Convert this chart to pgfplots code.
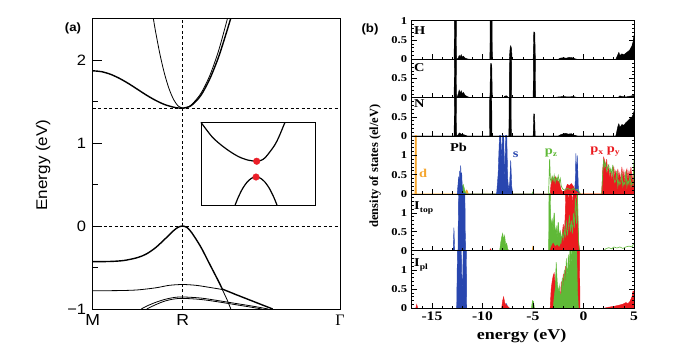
\documentclass[border=0pt]{standalone}
\usepackage{fontspec}
\setmainfont{Liberation Serif}
\newfontfamily\asans[FakeStretch=1.1]{Liberation Sans}
\newfontfamily\bserif[FakeStretch=1.2]{Liberation Serif}
\newfontfamily\gserif{Liberation Serif}
\usepackage{pgfplots}
\pgfplotsset{compat=1.18}
\definecolor{dblue}{RGB}{40,70,175}
\definecolor{dgreen}{RGB}{95,185,55}
\definecolor{dred}{RGB}{235,25,30}
\definecolor{dorange}{RGB}{245,165,45}
\pgfplotsset{
  dos/.style 2 args={at={(411.7pt,#1pt)}, anchor=south west, scale only axis,
    width=222.3pt, height=#2pt, xmin=-17, xmax=5, ymin=0,
    axis on top, axis line style={line width=0.8pt},
    tick align=inside, xtick pos=left, ytick pos=both,
    xtick={-15,-10,-5,0,5}, minor xtick={-17,-16,-14,-13,-12,-11,-9,-8,-7,-6,-4,-3,-2,-1,1,2,3,4},
    major tick length=5pt, minor tick length=2.5pt,
    tick style={black, line width=0.6pt},
    xticklabels={},
    yticklabel style={font=\bserif\bfseries\fontsize{10.5}{10.5}\selectfont, xshift=-1pt},
    xticklabel style={font=\bserif\bfseries\fontsize{13}{13}\selectfont},
  },
  dosA/.style={ymax=1, ytick={0,0.5,1}, minor ytick={0.1,0.2,0.3,0.4,0.6,0.7,0.8,0.9}},
  dosB/.style={ymax=1.5, ytick={0,0.5,1}, yticklabels={0,0.5,1}, minor ytick={0.1,0.2,0.3,0.4,0.6,0.7,0.8,0.9,1.1,1.2,1.3,1.4}},
  blk/.style={draw=black, fill=black, line width=0.4pt},
}
\begin{document}
\begin{tikzpicture}
\useasboundingbox (0,0) rectangle (691pt,358pt);
% ---------------- panel (a)
\begin{axis}[at={(92.7pt,49pt)}, anchor=south west, scale only axis,
  width=247.3pt, height=290.5pt, xmin=0, xmax=2.748, ymin=-1, ymax=2.5,
  xtick={0,1,2.748}, xticklabels={M,R,{\gserif Γ}},
  ytick={-1,0,1,2}, yticklabels={−1,0,1,2}, minor ytick={-0.5,0.5,1.5},
  ytick pos=left, tick align=inside, xtick style={draw=none},
  major tick length=9pt, minor tick length=5pt,
  axis line style={line width=0.8pt}, tick style={black, line width=0.8pt},
  yticklabel style={font=\asans\fontsize{15}{15}\selectfont, xshift=-3pt},
  xticklabel style={font=\asans\fontsize{16}{16}\selectfont, yshift=-2pt},
  clip=true]
\addplot[black, line width=0.7pt, dash pattern=on 3pt off 2.5pt] coordinates {(0,1.42)(2.748,1.42)};
\addplot[black, line width=0.7pt, dash pattern=on 3pt off 2.5pt] coordinates {(0,0)(2.748,0)};
\addplot[black, line width=0.7pt, dash pattern=on 3pt off 2.5pt] coordinates {(1,-1)(1,2.5)};
% conduction bands
\addplot[black, line width=1.4pt, smooth] coordinates {(0,1.87)(0.1,1.859)(0.2,1.827)(0.3,1.777)(0.4,1.715)(0.5,1.645)(0.6,1.575)(0.7,1.513)(0.8,1.463)(0.9,1.431)(0.95,1.422)(1,1.42)(1.05,1.43)(1.1,1.455)(1.2,1.57)(1.3,1.77)(1.4,2.04)(1.5,2.38)(1.56,2.6)};
\addplot[black, line width=0.8pt, smooth] coordinates {(1,1.42)(1.05,1.431)(1.1,1.463)(1.2,1.594)(1.3,1.81)(1.4,2.116)(1.5,2.51)(1.52,2.6)};
\addplot[black, line width=0.8pt, smooth] coordinates {(0.66,2.6)(0.674,2.5)(0.7,2.334)(0.75,2.055)(0.8,1.826)(0.85,1.649)(0.9,1.522)(0.95,1.445)(1,1.42)};
% valence bands
\addplot[black, line width=1.4pt, smooth] coordinates {(0,-0.43)(0.2,-0.427)(0.35,-0.415)(0.5,-0.38)(0.6,-0.335)(0.7,-0.26)(0.8,-0.16)(0.9,-0.055)(0.95,-0.015)(1,0)(1.05,-0.02)(1.1,-0.08)(1.2,-0.25)(1.3,-0.46)(1.4,-0.67)(1.44,-0.76)};
\addplot[black, line width=1.4pt] coordinates {(1.44,-0.76)(1.6,-0.83)(1.8,-0.915)(2.0,-1.0)};
\addplot[black, line width=0.8pt, smooth] coordinates {(0,-0.78)(0.3,-0.778)(0.5,-0.77)(0.7,-0.745)(0.85,-0.715)(1,-0.705)(1.15,-0.715)(1.3,-0.74)(1.44,-0.765)};
\addplot[black, line width=0.8pt] coordinates {(1.44,-0.765)(1.49,-0.88)(1.535,-1.0)};
\addplot[black, line width=0.8pt, smooth] coordinates {(0.54,-1)(0.6,-0.965)(0.7,-0.92)(0.8,-0.885)(0.9,-0.862)(1,-0.855)(1.2,-0.868)(1.4,-0.9)(1.6,-0.935)(1.8,-0.97)(1.95,-1)};
\addplot[black, line width=0.8pt, smooth] coordinates {(0.6,-1)(0.7,-0.948)(0.8,-0.905)(0.9,-0.88)(1,-0.872)(1.2,-0.885)(1.4,-0.915)(1.6,-0.95)(1.8,-0.985)(1.88,-1)};
% inset
\addplot[black, line width=0.8pt, fill=white] coordinates {(1.203,0.245)(2.47,0.245)(2.47,1.249)(1.203,1.249)(1.203,0.245)};
\addplot[black, line width=1.2pt, smooth] coordinates {(1.203,1.249)(1.322,1.08)(1.422,0.98)(1.522,0.9)(1.622,0.835)(1.722,0.795)(1.822,0.78)(1.872,0.792)(1.92,0.827)(2.02,0.97)(2.07,1.076)(2.12,1.206)(2.137,1.249)};
\addplot[black, line width=1.2pt, smooth] coordinates {(1.58,0.245)(1.615,0.34)(1.665,0.45)(1.715,0.528)(1.765,0.575)(1.815,0.59)(1.865,0.575)(1.915,0.528)(1.965,0.45)(2.015,0.34)(2.05,0.245)};
\addplot[only marks, mark=*, mark size=3.3pt, color={rgb,255:red,235;green,30;blue,40}] coordinates {(1.822,0.78)(1.815,0.59)};
\end{axis}
\node[font=\asans\bfseries\fontsize{12}{12}\selectfont] at (73pt,330pt) {(a)};
\node[font=\asans\fontsize{15.5}{15.5}\selectfont, rotate=90] at (43pt,193pt) {Energy (eV)};
% ---------------- panel (b)
% H
\begin{axis}[dos={298.7}{38.6}, dosA, yticklabels={0,0.5,1}]
\addplot[blk] coordinates {(-17,0)(-12.8,0)(-12.74,3)(-12.62,3)(-12.56,0)(-12.4,0.03)(-12.3,0.1)(-12.2,0.06)(-12.1,0.12)(-12.0,0.05)(-11.9,0.08)(-11.7,0.03)(-11.5,0.01)(-11.2,0)(-9.26,0)(-9.2,3)(-9.08,3)(-9.02,0)(-7.34,0)(-7.26,0.3)(-7.2,0.35)(-7.12,0.28)(-7.06,0)(-4.98,0)(-4.92,0.71)(-4.82,0.7)(-4.76,0)(-2.5,0)(-2.3,0.03)(-2.0,0.04)(-1.7,0.03)(-1.4,0.05)(-1.1,0.04)(-0.8,0.01)(-0.6,0)(3.2,0)(3.4,0.12)(3.5,0.18)(3.6,0.1)(3.8,0.14)(4.0,0.12)(4.2,0.16)(4.4,0.2)(4.6,0.25)(4.8,0.35)(4.9,0.45)(5.0,0.62)} \closedcycle;
\end{axis}
% C
\begin{axis}[dos={260.3}{38.4}, dosA, yticklabels={0,0.5,{}}]
\addplot[blk] coordinates {(-17,0)(-12.8,0)(-12.74,3)(-12.62,3)(-12.56,0)(-12.45,0.05)(-12.3,0.2)(-12.2,0.12)(-12.1,0.18)(-12.0,0.1)(-11.9,0.14)(-11.7,0.06)(-11.5,0.03)(-11.2,0)(-9.26,0)(-9.2,0.89)(-9.08,0.88)(-9.02,0)(-7.9,0)(-7.8,0.04)(-7.6,0.05)(-7.45,0)(-7.34,0)(-7.28,3)(-7.16,3)(-7.1,0)(-4.98,0)(-4.92,3)(-4.8,3)(-4.74,0)(-3,0)(-2.5,0.02)(-2,0.03)(-1.5,0.02)(-1,0.03)(-0.5,0)(3.4,0)(3.6,0.05)(3.8,0.03)(4.2,0.02)(4.6,0.04)(5.0,0.06)} \closedcycle;
\end{axis}
% N
\begin{axis}[dos={222}{38.3}, dosA, yticklabels={0,0.5,{}}]
\addplot[blk] coordinates {(-17,0)(-12.8,0)(-12.74,3)(-12.62,3)(-12.56,0)(-12.4,0.03)(-12.3,0.08)(-12.1,0.05)(-11.8,0.03)(-11.5,0)(-9.3,0)(-9.24,3)(-9.12,3)(-9.06,0)(-7.38,0)(-7.32,3)(-7.2,3)(-7.14,0)(-4.98,0)(-4.92,0.58)(-4.84,0.57)(-4.78,0)(-2.5,0)(-2.2,0.04)(-1.8,0.07)(-1.5,0.05)(-1.2,0.06)(-0.9,0.02)(-0.6,0)(3.2,0)(3.4,0.25)(3.5,0.32)(3.6,0.22)(3.8,0.3)(4.0,0.28)(4.2,0.35)(4.4,0.4)(4.6,0.45)(4.8,0.5)(4.9,0.55)(5,0.65)} \closedcycle;
\end{axis}
% Pb
\begin{axis}[dos={164}{58}, dosB]
\addplot[draw=dorange, fill=dorange, line width=0.8pt] coordinates {(-17,0)(-16.66,0)(-16.64,3)(-16.56,3)(-16.54,0)(-11.7,0)(-11.6,0.1)(-11.5,0.08)(-11.4,0)(5,0)} \closedcycle;
\addplot[draw=dgreen, fill=dgreen, line width=0.4pt] coordinates {(-12.1,0)(-12.0,0.2)(-11.9,0.25)(-11.8,0.15)(-11.7,0.05)(-11.6,0)(-5.1,0)(-5.0,0.06)(-4.9,0)} \closedcycle;
\addplot[draw=dblue, fill=dblue, line width=0.4pt] coordinates {(-12.5,0)(-12.4,0.3)(-12.35,0.45)(-12.3,0.2)(-12.25,0.6)(-12.2,0.3)(-12.15,0.74)(-12.1,0.4)(-12.05,0.55)(-12.0,0.2)(-11.9,0)(-8.6,0)(-8.45,0.5)(-8.3,1.6)(-8.2,1.6)(-8.1,0.9)(-8.0,1.6)(-7.9,1.6)(-7.8,0.3)(-7.7,1.6)(-7.6,1.6)(-7.5,0.4)(-7.4,0.1)(-7.3,0.3)(-7.2,0.87)(-7.1,0.2)(-7.0,0)(-0.9,0)(-0.8,0.4)(-0.75,1.05)(-0.7,0.3)(-0.62,1.0)(-0.55,0.5)(-0.5,0.1)(-0.4,0)} \closedcycle;
\addplot[draw=dred, fill=dred, line width=0.4pt] coordinates {(-3.3,0)(-3.2,0.3)(-3.1,0.45)(-3.0,0.4)(-2.9,0.3)(-2.8,0.45)(-2.7,0.38)(-2.6,0.42)(-2.5,0.3)(-2.4,0.35)(-2.3,0.2)(-2.2,0.1)(-2.0,0.05)(-1.8,0.1)(-1.6,0.25)(-1.4,0.22)(-1.2,0.27)(-1.0,0.2)(-0.8,0.08)(-0.6,0.05)(-0.4,0)(1.8,0)(1.9,0.6)(2.0,0.95)(2.1,0.85)(2.2,0.6)(2.3,0.9)(2.4,0.5)(2.5,0.7)(2.6,0.4)(2.7,0.6)(2.8,0.35)(2.9,0.55)(3.0,0.7)(3.1,0.45)(3.2,0.6)(3.3,0.3)(3.4,0.65)(3.5,0.4)(3.6,0.55)(3.7,0.3)(3.8,0.7)(3.9,0.4)(4.0,0.6)(4.1,0.3)(4.2,0.55)(4.3,0.65)(4.4,0.35)(4.5,0.6)(4.6,0.45)(4.7,0.7)(4.8,0.3)(4.9,0.5)(5.0,0.3)} \closedcycle;
\addplot[dgreen, line width=0.7pt] coordinates {(-3.45,0)(-3.35,0.9)(-3.28,0.4)(-3.2,0.3)(-3.1,0.45)(-3.0,0.35)(-2.9,0.48)(-2.8,0.3)(-2.7,0.42)(-2.6,0.35)(-2.5,0.47)(-2.4,0.3)(-2.3,0.4)(-2.2,0.2)(-2.1,0.15)(-2.0,0.12)(-1.8,0.1)(-1.6,0.15)(-1.4,0.12)(-1.2,0.1)(-1.0,0.15)(-0.8,0.1)(-0.6,0.12)(-0.4,0.05)(-0.3,0)};
\addplot[dgreen, line width=0.7pt] coordinates {(1.8,0)(1.9,0.5)(2.0,0.9)(2.1,0.7)(2.2,0.8)(2.3,0.6)(2.4,0.7)(2.5,0.75)(2.6,0.55)(2.7,0.65)(2.8,0.5)(2.9,0.75)(3.0,0.4)(3.1,0.3)(3.2,0.35)(3.3,0.6)(3.4,0.2)(3.5,0.35)(3.6,0.25)(3.7,0.3)(3.8,0.5)(3.9,0.2)(4.0,0.3)(4.1,0.25)(4.2,0.6)(4.3,0.2)(4.4,0.35)(4.5,0.25)(4.6,0.5)(4.7,0.2)(4.8,0.3)(4.9,0.25)(5.0,0.9)};
\end{axis}
% I top
\begin{axis}[dos={107.3}{56.7}, dosB]
\addplot[draw=dblue, fill=dblue, line width=0.4pt] coordinates {(-12.9,0)(-12.82,0.61)(-12.75,0)(-12.42,0)(-12.38,1.2)(-12.33,2)(-11.75,2)(-11.7,0.5)(-11.65,0)} \closedcycle;
\addplot[draw=dred, fill=dred, line width=0.4pt] coordinates {(-9.3,0)(-9.2,0.05)(-9.1,0)} \closedcycle;
\addplot[draw=dorange, fill=dorange, line width=0.4pt] coordinates {(-5.1,0)(-5.0,0.12)(-4.9,0)} \closedcycle;
\addplot[draw=dgreen, fill=dgreen, line width=0.4pt] coordinates {(-8.3,0)(-8.2,0.2)(-8.1,0.35)(-8.0,0.46)(-7.9,0.3)(-7.8,0.4)(-7.7,0.15)(-7.6,0.2)(-7.5,0.05)(-7.4,0)(-3.45,0)(-3.4,2)(-3.3,2)(-3.25,0.9)(-3.2,0.6)(-3.1,0.8)(-3.0,0.5)(-2.9,1.0)(-2.8,0.4)(-2.7,0.6)(-2.6,0.3)(-2.5,0.75)(-2.4,0.35)(-2.3,0.5)(-2.2,0.25)(-2.1,0.45)(-2.0,0.3)(-1.9,0.55)(-1.8,0.35)(-1.7,0.8)(-1.6,0.4)(-1.5,0.6)(-1.4,0.95)(-1.3,0.5)(-1.2,0.8)(-1.1,0.45)(-1.0,1.0)(-0.9,0.6)(-0.8,1.4)(-0.7,0.7)(-0.6,1.6)(-0.5,0.3)(-0.4,0)} \closedcycle;
\addplot[draw=dred, fill=dred, line width=0.4pt] coordinates {(-3.3,0)(-3.2,0.1)(-3.0,0.2)(-2.8,0.1)(-2.6,0.15)(-2.4,0.08)(-2.2,0.2)(-2.0,0.7)(-1.9,0.4)(-1.8,1.0)(-1.75,1.6)(-1.6,1.6)(-1.5,1.3)(-1.4,1.6)(-1.2,1.6)(-1.1,1.2)(-1.0,1.6)(-0.7,1.6)(-0.6,1.0)(-0.5,0.2)(-0.4,0)} \closedcycle;
\addplot[dgreen, line width=0.6pt] coordinates {(-3.25,0.9)(-3.2,0.6)(-3.1,0.8)(-3.0,0.5)(-2.9,1.0)(-2.8,0.4)(-2.7,0.6)(-2.6,0.3)(-2.5,0.75)(-2.4,0.35)(-2.3,0.5)(-2.2,0.25)(-2.1,0.45)(-2.0,0.3)(-1.9,0.55)(-1.8,0.35)(-1.7,0.8)(-1.6,0.4)(-1.5,0.6)(-1.4,0.95)(-1.3,0.5)(-1.2,0.8)(-1.1,0.45)(-1.0,1.0)(-0.9,0.6)(-0.8,1.4)(-0.7,0.7)(-0.6,1.6)(-0.5,0.3)(-0.4,0)};
\addplot[dgreen, line width=0.6pt] coordinates {(2.0,0)(2.2,0.05)(2.5,0.08)(2.8,0.05)(3.0,0.1)(3.3,0.07)(3.6,0.1)(3.9,0.06)(4.2,0.1)(4.5,0.12)(4.8,0.1)(5,0.2)};
\end{axis}
% I pl
\begin{axis}[dos={49.7}{57.6}, dosB, xticklabels={-15,-10,-5,0,5}]
\addplot[draw=dred, fill=dred, line width=0.4pt] coordinates {(-16.6,0)(-16.5,0.1)(-16.4,0)} \closedcycle;
\addplot[draw=dblue, fill=dblue, line width=0.4pt] coordinates {(-12.55,0)(-12.5,1.0)(-12.45,2)(-12.1,2)(-12.05,0.9)(-11.95,0.5)(-11.9,2)(-11.6,2)(-11.55,0)(-7.7,0)(-7.6,0.12)(-7.5,0)} \closedcycle;
\addplot[draw=dred, fill=dred, line width=0.4pt] coordinates {(-8.1,0)(-8.0,0.2)(-7.9,0.3)(-7.8,0.15)(-7.7,0.1)(-7.5,0.05)(-7.3,0)} \closedcycle;
\addplot[draw=dgreen, fill=dgreen, line width=0.4pt] coordinates {(-5.15,0)(-5.05,0.2)(-4.95,0.18)(-4.85,0)} \closedcycle;
\addplot[draw=dred, fill=dred, line width=0.4pt] coordinates {(-3.3,0)(-3.2,0.5)(-3.1,0.7)(-3.0,0.85)(-2.9,0.92)(-2.8,0.6)(-2.7,0.8)(-2.6,0.5)(-2.5,0.3)(-2.4,0.4)(-2.3,0.2)(-2.2,0.7)(-2.1,0.3)(-2.0,0.9)(-1.9,0.4)(-1.8,1.1)(-1.7,0.5)(-1.6,0.8)(-1.5,0.3)(-1.4,0.6)(-1.3,0.2)(-1.2,0.7)(-1.1,0.3)(-1.0,0.5)(-0.9,0.2)(-0.8,0.4)(-0.7,0.3)(-0.6,2)(-0.4,2)(-0.35,0)} \closedcycle;
\addplot[draw=dgreen, fill=dgreen, line width=0.4pt] coordinates {(-3.0,0)(-2.9,0.3)(-2.8,0.5)(-2.7,1.2)(-2.6,0.7)(-2.5,0.4)(-2.4,0.6)(-2.3,0.3)(-2.2,0.4)(-2.1,0.8)(-2.0,0.5)(-1.9,1.0)(-1.8,0.6)(-1.7,1.3)(-1.6,0.8)(-1.5,1.4)(-1.4,1.0)(-1.3,2)(-1.2,1.1)(-1.1,2)(-0.9,2)(-0.8,1.2)(-0.7,2)(-0.6,0.5)(-0.5,0)} \closedcycle;
\addplot[draw=dred, fill=dred, line width=0.4pt] coordinates {(2.0,0)(2.5,0.03)(3.0,0.05)(3.5,0.08)(3.8,0.1)(4.0,0.12)(4.2,0.15)(4.4,0.12)(4.6,0.18)(4.8,0.3)(4.9,0.45)(5.0,0.45)} \closedcycle;
\end{axis}
% labels panel (b)
\node[font=\asans\bfseries\fontsize{12}{12}\selectfont] at (370pt,329pt) {(b)};
\node[font=\gserif\bfseries\fontsize{12.5}{12.5}\selectfont, rotate=90] at (375pt,192pt) {density of states (el/eV)};
\node[font=\bserif\bfseries\fontsize{15}{15}\selectfont] at (521.7pt,22pt) {energy (eV)};
\begin{scope}[every node/.style={font=\bserif\bfseries\fontsize{12}{12}\selectfont, inner sep=0pt}]
\node[anchor=west] at (414pt,327pt) {H};
\node[anchor=west] at (414pt,290pt) {C};
\node[anchor=west] at (414pt,254pt) {N};
\node at (458.5pt,211pt) {Pb};
\node[text=dblue] at (515.7pt,203pt) {s};
\node[text=dgreen] at (551pt,205pt) {p\raisebox{-2pt}{\fontsize{8}{8}\selectfont z}};
\node[text=dred] at (605pt,206pt) {p\raisebox{-2pt}{\fontsize{8}{8}\selectfont x} p\raisebox{-2pt}{\fontsize{8}{8}\selectfont y}};
\node[text=dorange] at (423pt,185pt) {d};
\node[anchor=west] at (414pt,150pt) {I\raisebox{-3pt}{\fontsize{8}{8}\selectfont top}};
\node[anchor=west] at (414pt,93pt) {I\raisebox{-3pt}{\fontsize{8}{8}\selectfont pl}};
\end{scope}
\end{tikzpicture}
\end{document}
